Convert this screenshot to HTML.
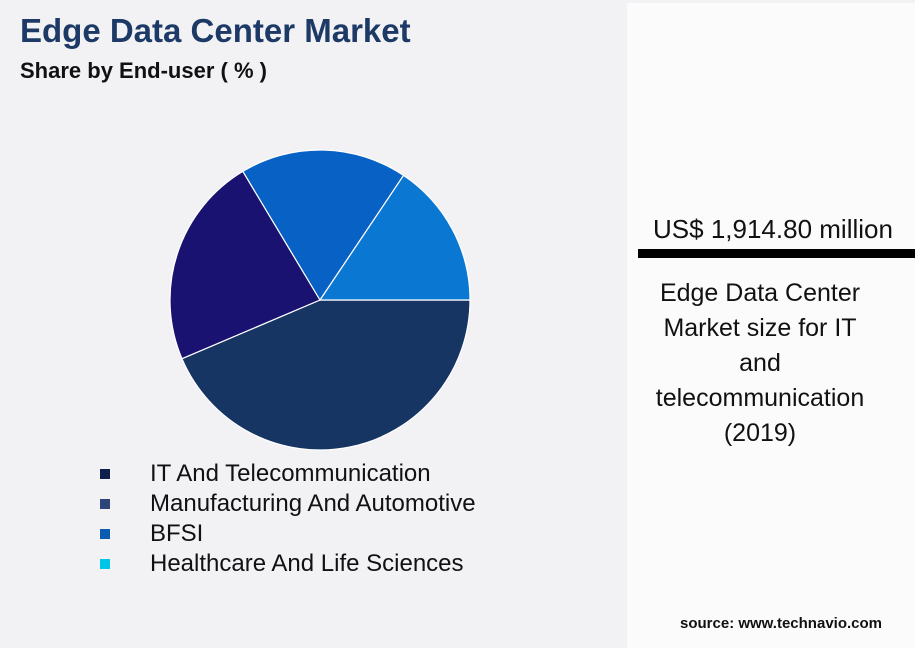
<!DOCTYPE html>
<html><head><meta charset="utf-8"><style>
body{margin:0;width:915px;height:648px;background:#f2f2f5;font-family:"Liberation Sans",sans-serif;position:relative;overflow:hidden}
.t{position:absolute;margin:0;white-space:nowrap}
</style></head><body>
<div class="t" style="left:20px;top:12px;font-size:33px;font-weight:bold;color:#1d3a66">Edge Data Center Market</div>
<div class="t" style="left:20px;top:58px;font-size:22px;font-weight:bold;color:#111">Share by End-user ( % )</div>
<div style="position:absolute;left:627px;top:3px;width:288px;height:645px;background:#fbfbfb"></div>
<div class="t" style="left:638px;top:214px;width:270px;text-align:center;font-size:26px;color:#111">US$ 1,914.80 million</div>
<div style="position:absolute;left:638px;top:249px;width:277px;height:9px;background:#000"></div>
<div style="position:absolute;left:640px;top:276px;width:240px;text-align:center;font-size:25px;line-height:35px;color:#111">Edge Data Center<br>Market size for IT<br>and<br>telecommunication<br>(2019)</div>
<div class="t" style="left:680px;top:615px;font-size:15px;font-weight:bold;color:#111">source: www.technavio.com</div>
<svg id="pie" width="915" height="648" style="position:absolute;left:0;top:0"></svg>
<div id="legend"></div>
<script>
const categories=["IT And Telecommunication","Manufacturing And Automotive","BFSI","Healthcare And Life Sciences"];
const shares=[43.6,22.8,18.0,15.6];
const sliceColors=["#163563","#1a1270","#0862c6","#0a78d2"];
const legendColors=["#0f1e4a","#2d4577","#0a5cb0","#00c5e6"];
const cx=320,cy=300,r=150;
const svg=document.getElementById('pie');
const total=shares.reduce((a,b)=>a+b,0);
let a0=0;
shares.forEach((v,i)=>{
  const a1=a0+v/total*2*Math.PI;
  const x0=cx+r*Math.cos(a0),y0=cy+r*Math.sin(a0),x1=cx+r*Math.cos(a1),y1=cy+r*Math.sin(a1);
  const p=document.createElementNS('http://www.w3.org/2000/svg','path');
  p.setAttribute('d',`M${cx},${cy}L${x0},${y0}A${r},${r} 0 ${a1-a0>Math.PI?1:0} 1 ${x1},${y1}Z`);
  p.setAttribute('fill',sliceColors[i]);p.setAttribute('stroke','#fff');p.setAttribute('stroke-width','1.2');
  
  
  svg.appendChild(p);a0=a1;
});
const lg=document.getElementById('legend');
categories.forEach((c,i)=>{
  const sq=document.createElement('div');
  sq.style.cssText=`position:absolute;left:100px;top:${469+i*30}px;width:10px;height:10px;background:${legendColors[i]}`;
  
  
  lg.appendChild(sq);
  const t=document.createElement('div');
  t.className='t';t.textContent=c;
  t.style.cssText=`left:150px;top:${460+i*30}px;font-size:24px;color:#111`;
  
  
  lg.appendChild(t);
});
</script>
</body></html>
